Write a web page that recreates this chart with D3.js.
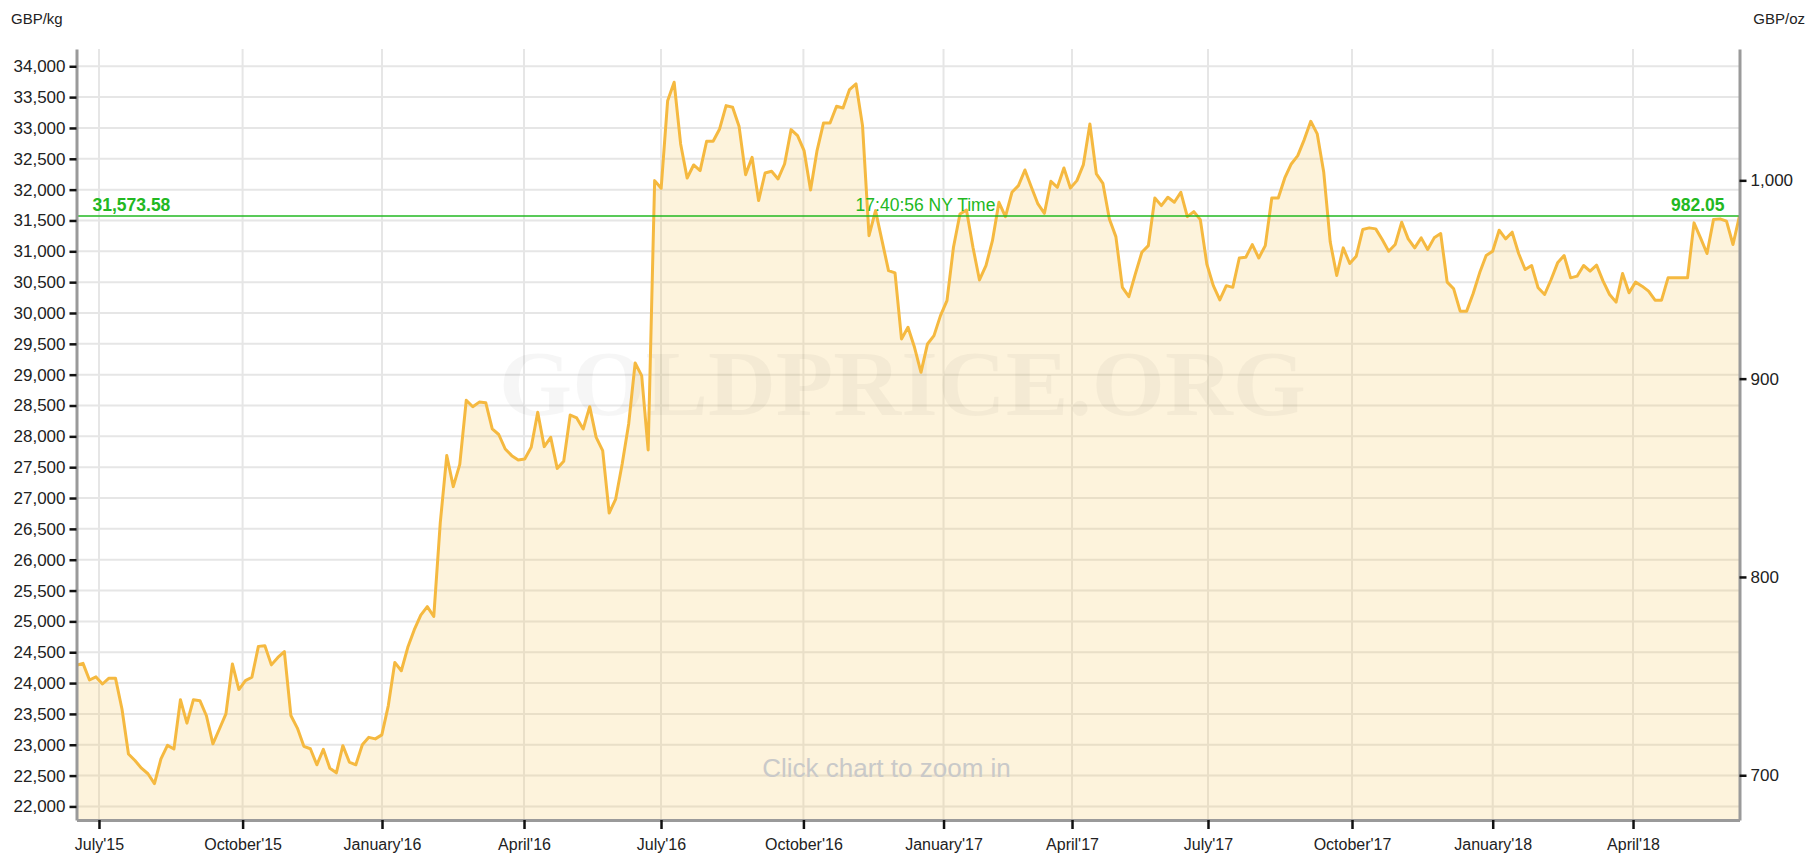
<!DOCTYPE html>
<html>
<head>
<meta charset="utf-8">
<title>Gold Price in GBP - 3 years</title>
<script src="https://d3js.org/d3.v7.min.js"></script>
<style>
  body { margin:0; background:#fff; }
  text { font-family: "Liberation Sans", Arial, sans-serif; }
  .axis .domain { stroke:#9a9a9a; stroke-width:3px; }
  .axis .tick line { stroke:#111; stroke-width:2.5px; }
  .axis .tick text { fill:#222; }
</style>
</head>
<body>
<svg id="chart" width="1819" height="856"></svg>
<script>
"use strict";

// gold price, GBP per kg, roughly every 4 days, mid June 2015 -> mid June 2018
const pricesKg = [
  24290, 24320, 24050, 24100, 23985, 24080, 24080, 23580, 22850, 22745,
  22620, 22530, 22370, 22770, 22990, 22930, 23730, 23350, 23730, 23715,
  23470, 23015, 23255, 23500, 24310, 23895, 24040, 24095, 24595, 24605,
  24295, 24415, 24510, 23475, 23270, 22975, 22935, 22675, 22925, 22620,
  22545, 22985, 22720, 22675, 23000, 23120, 23095, 23160, 23635, 24335,
  24200, 24580, 24865, 25100, 25240, 25080, 26600, 27690, 27185, 27545,
  28585, 28480, 28555, 28545, 28120, 28030,
  27795, 27687, 27617, 27633, 27822, 28390, 27833, 27984, 27481, 27595,
  28346, 28298, 28119, 28481, 27984, 27768, 26757, 26984, 27552, 28200,
  29190, 28984, 27779, 32146, 32022, 33443, 33741, 32741, 32189, 32400,
  32308, 32784, 32784, 32984, 33362, 33335, 33022, 32243, 32524, 31822,
  32270, 32297, 32173, 32416, 32973, 32876, 32633, 31995, 32633, 33081,
  33081, 33351, 33324, 33622, 33714, 33038, 31254, 31660, 31173, 30687,
  30649, 29579, 29768,
  29444, 29038, 29498, 29633, 29957, 30200, 31065, 31606, 31670, 31065,
  30535, 30768, 31173, 31795, 31562, 31957, 32065, 32319, 32038, 31768,
  31616, 32135, 32038, 32351, 32027, 32146, 32406, 33065, 32254, 32103,
  31524, 31238, 30416, 30265, 30633, 30984, 31092, 31865, 31741, 31876,
  31795, 31957, 31562, 31643, 31514, 30795, 30443, 30211, 30443, 30416,
  30892, 30903, 31108, 30892, 31092, 31865, 31865, 32189, 32416, 32551,
  32811, 33108, 32903, 32281,
  31150, 30608, 31056, 30802, 30921, 31353, 31380, 31364, 31191, 31002,
  31110, 31472, 31202, 31056, 31218, 31029, 31218, 31288, 30500, 30392,
  30030, 30030, 30316, 30651, 30932, 31002, 31342, 31202, 31310, 30964,
  30705, 30770, 30408, 30300, 30543, 30813, 30932, 30570, 30597, 30770,
  30678, 30775, 30516, 30300, 30176, 30640, 30327, 30500, 30435, 30354,
  30208, 30208, 30570, 30570, 30570, 30570, 31461, 31218, 30964, 31515,
  31526, 31488, 31110, 31574
];

// month labels and where they fall in the point sequence
const monthLabels = ["July'15", "October'15", "January'16", "April'16", "July'16", "October'16",
                     "January'17", "April'17", "July'17", "October'17", "January'18", "April'18"];
const monthIndex  = [3.46, 25.57, 47.03, 68.89, 89.98, 111.9,
                     133.47, 153.25, 174.18, 196.35, 218.01, 239.61];

const kgTicks = [22000, 22500, 23000, 23500, 24000, 24500, 25000, 25500, 26000, 26500,
                 27000, 27500, 28000, 28500, 29000, 29500, 30000, 30500, 31000, 31500,
                 32000, 32500, 33000, 33500, 34000];
const ozTicks = [700, 800, 900, 1000];

const lastKg = 31573.58;
const lastOz = 982.05;
const timeLabel = "17:40:56 NY Time";
const OZ_PER_KG = 32.1507;

const svg = d3.select("#chart");
const width = +svg.attr("width");
const height = +svg.attr("height");
const margin = { top:49, right:79.5, bottom:36, left:76.5 };
const innerW = width - margin.left - margin.right;
const innerH = height - margin.top - margin.bottom;

const x = d3.scaleLinear().domain([0, pricesKg.length - 1]).range([0, innerW]);
const y = d3.scaleLinear().domain([21780, 34280]).range([innerH, 0]);
const yOz = d3.scaleLinear().domain(y.domain().map(v => v / OZ_PER_KG)).range([innerH, 0]);

// unit captions
svg.append("text").attr("x", 11).attr("y", 24)
    .attr("font-size", 15).attr("fill", "#222").text("GBP/kg");
svg.append("text").attr("x", 1805).attr("y", 24).attr("text-anchor", "end")
    .attr("font-size", 15).attr("fill", "#222").text("GBP/oz");

const g = svg.append("g").attr("transform", `translate(${margin.left},${margin.top})`);

// grid
g.append("g").selectAll("line").data(kgTicks).join("line")
    .attr("x1", 0).attr("x2", innerW)
    .attr("y1", d => y(d)).attr("y2", d => y(d))
    .attr("stroke", "#e6e6e6").attr("stroke-width", 2);
g.append("g").selectAll("line").data(monthIndex).join("line")
    .attr("x1", d => x(d)).attr("x2", d => x(d))
    .attr("y1", 0).attr("y2", innerH)
    .attr("stroke", "#e6e6e6").attr("stroke-width", 2);

// area + watermark + line
const area = d3.area().x((d, i) => x(i)).y0(innerH).y1(d => y(d));
const line = d3.line().x((d, i) => x(i)).y(d => y(d));

g.append("path").datum(pricesKg).attr("d", area)
    .attr("fill", "#f5c152").attr("fill-opacity", 0.2);

g.append("text")
    .attr("x", 826).attr("y", 366).attr("text-anchor", "middle")
    .style("font-family", "'Liberation Serif', 'DejaVu Serif', serif")
    .attr("font-weight", "bold").attr("font-size", 94)
    .attr("fill", "#000").attr("fill-opacity", 0.035)
    .text("GOLDPRICE.ORG");

g.append("text")
    .attr("x", 810).attr("y", 728).attr("text-anchor", "middle")
    .attr("font-size", 26).attr("fill", "#c9c9c9")
    .text("Click chart to zoom in");

g.append("path").datum(pricesKg).attr("d", line)
    .attr("fill", "none").attr("stroke", "#f5b940")
    .attr("stroke-width", 3).attr("stroke-linejoin", "round");

// current price line
const green = "#22b822";
g.append("line")
    .attr("x1", 0).attr("x2", innerW)
    .attr("y1", y(lastKg)).attr("y2", y(lastKg))
    .attr("stroke", green).attr("stroke-width", 1.6);
g.append("text").attr("x", 16).attr("y", y(lastKg) - 5)
    .attr("font-size", 17.5).attr("font-weight", "bold").attr("fill", green)
    .text(d3.format(",.2f")(lastKg));
g.append("text").attr("x", innerW - 15).attr("y", y(lastKg) - 5).attr("text-anchor", "end")
    .attr("font-size", 17.5).attr("font-weight", "bold").attr("fill", green)
    .text(d3.format(".2f")(lastOz));
g.append("text").attr("x", 849).attr("y", y(lastKg) - 5).attr("text-anchor", "middle")
    .attr("font-size", 17.5).attr("fill", green)
    .text(timeLabel);

// axes
g.append("g").attr("class", "axis")
    .call(d3.axisLeft(y).tickValues(kgTicks).tickFormat(d3.format(","))
        .tickSize(7).tickSizeOuter(0).tickPadding(4))
    .call(a => a.selectAll("text").attr("font-size", 17));

g.append("g").attr("class", "axis")
    .attr("transform", `translate(${innerW},0)`)
    .call(d3.axisRight(yOz).tickValues(ozTicks).tickFormat(d3.format(","))
        .tickSize(7).tickSizeOuter(0).tickPadding(4))
    .call(a => a.selectAll("text").attr("font-size", 17));

g.append("g").attr("class", "axis")
    .attr("transform", `translate(0,${innerH})`)
    .call(d3.axisBottom(x).tickValues(monthIndex).tickFormat((d, i) => monthLabels[i])
        .tickSize(9).tickSizeOuter(0).tickPadding(10))
    .call(a => a.selectAll("text").attr("font-size", 16));
</script>
</body>
</html>
